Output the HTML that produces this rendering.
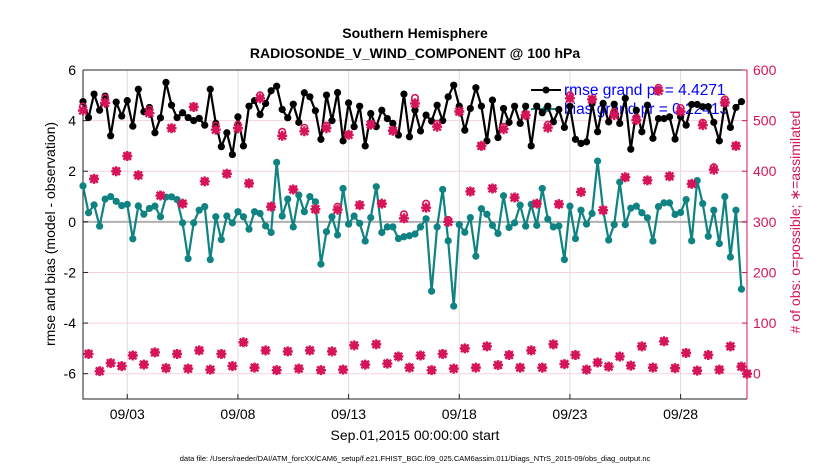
<!DOCTYPE html>
<html><head><meta charset="utf-8"><style>
body{margin:0;background:#fff;}
svg{display:block;font-family:"Liberation Sans",sans-serif;}
</style></head><body>
<svg id="chart" width="830" height="470" xmlns="http://www.w3.org/2000/svg">
<text x="415" y="38" text-anchor="middle" font-size="14" font-weight="bold">Southern Hemisphere</text>
<text x="415" y="58" text-anchor="middle" font-size="14" font-weight="bold">RADIOSONDE_V_WIND_COMPONENT @ 100 hPa</text>
<g id="grid"></g>
<g id="axes"></g>
<g id="legend"></g>
<g id="series"></g>
<text transform="translate(55,234) rotate(-90)" text-anchor="middle" font-size="14">rmse and bias (model - observation)</text>
<text transform="translate(800,222) rotate(-90)" text-anchor="middle" font-size="14" fill="#d6145a"># of obs: o=possible; ∗=assimilated</text>
<text x="415" y="440" text-anchor="middle" font-size="14">Sep.01,2015 00:00:00 start</text>
<text x="415" y="461" text-anchor="middle" font-size="7.5">data file: /Users/raeder/DAI/ATM_forcXX/CAM6_setup/f.e21.FHIST_BGC.f09_025.CAM6assim.011/Diags_NTrS_2015-09/obs_diag_output.nc</text>
</svg>
<script>
const rmse = [4.75,4.12,5.05,4.41,4.97,3.4,4.73,4.18,4.79,3.78,5.24,4.35,4.52,3.52,4.11,5.51,4.61,4.12,4.31,4.12,4.0,4.09,3.82,5.24,3.89,2.97,3.52,2.66,4.15,3.0,
4.57,4.79,4.24,4.68,5.18,5.36,4.44,4.11,4.65,3.93,5.1,4.94,4.39,3.26,5.01,4.0,5.11,3.2,4.7,3.76,4.57,3.0,4.28,3.76,4.41,4.08,3.89,3.43,5.05,3.36,
4.41,3.59,4.22,3.98,4.61,4.0,4.94,5.4,4.57,3.62,4.48,5.3,4.57,3.2,4.81,3.33,4.48,3.93,4.57,3.89,4.57,3.0,4.57,4.31,4.57,3.95,4.44,3.73,4.57,3.26,3.1,
3.16,4.68,3.56,4.68,3.95,4.65,3.89,4.88,2.87,4.41,3.56,4.61,3.3,4.08,4.08,4.15,3.27,4.15,3.82,4.64,4.64,4.55,4.55,3.93,3.2,4.68,3.73,4.52,4.75];
const bias = [1.42,0.36,0.67,-0.17,0.9,1.0,0.81,0.64,0.69,-0.67,0.63,0.3,0.53,0.62,0.2,0.98,0.99,0.88,-0.04,-1.45,-0.04,0.46,0.6,-1.49,0.2,-0.7,0.23,-0.04,0.4,0.2,
-0.29,0.4,0.33,-0.16,-0.42,2.35,0.23,0.9,-0.2,1.06,0.4,1.0,0.79,-1.67,-0.39,0.2,-0.52,1.32,-0.09,0.23,-0.06,-0.76,0.17,1.39,-0.42,-0.2,-0.2,-0.66,-0.59,-0.55,
-0.48,-0.2,0.12,-2.74,-0.2,1.28,-0.75,-3.33,-0.11,-0.41,0.17,-1.36,0.52,0.3,-0.14,-0.46,1.03,-0.22,-0.04,0.66,-0.17,0.69,-0.14,1.32,0.11,-0.2,-0.16,-1.49,0.62,-0.66,0.46,
-0.09,0.33,2.4,0.46,-0.72,-0.11,1.57,-0.11,0.54,0.62,0.36,0.16,-0.76,0.6,0.75,0.75,0.29,0.37,0.88,-0.75,1.63,0.72,-0.57,0.46,-0.86,1.0,-1.39,0.46,-2.66];
const nUsed = [520,39,385,5,535,21,400,15,430,36,392,18,515,42,352,11,485,39,336,10,527,46,380,8,482,39,395,15,485,62,
376,12,544,46,330,7,470,44,364,10,479,46,325,7,485,44,324,8,472,56,333,18,492,58,336,20,480,34,307,12,
534,36,328,7,488,39,300,10,518,50,360,12,450,54,366,17,483,37,348,12,511,46,336,12,486,58,335,19,544,37,359,
8,542,22,323,14,511,34,388,16,501,54,382,12,559,64,390,11,518,41,375,6,491,37,403,8,536,54,450,14,0];
const nPossible = [528,39,385,5,545,21,400,15,430,36,392,18,522,42,352,11,485,39,336,10,527,46,380,8,490,39,395,15,492,62,
376,12,550,46,330,7,478,44,364,10,486,46,325,7,490,44,330,8,472,56,333,18,492,58,336,20,480,34,315,12,
545,36,336,7,494,39,304,10,518,50,360,12,450,54,366,17,488,37,348,12,511,46,336,12,492,58,335,19,550,37,359,
8,542,22,323,14,517,34,388,16,506,54,382,12,565,64,390,11,525,41,375,6,496,37,408,8,542,54,450,14,0];
const xTickDays = [2,7,12,17,22,27];
const xTickLabels = ["09/03","09/08","09/13","09/18","09/23","09/28"];
const yTicks = [6,4,2,0,-2,-4,-6];
const rTicks = [0,100,200,300,400,500,600];
const legendLabels = ["rmse grand pr = 4.4271","bias grand pr = 0.22413"];

const NS="http://www.w3.org/2000/svg";
const X0=83,X1=747,Y0=70,Y1=399,DAYS=30;
const xs=d=>X0+(X1-X0)*d/DAYS;
const yl=v=>Y0+(6-v)*(Y1-Y0)/13;
const yr=n=>yl(-6)+(yl(6)-yl(-6))*n/600;
const xi=i=>xs(i*0.25);
function mk(tag,attrs,parent){const e=document.createElementNS(NS,tag);for(const k in attrs)e.setAttribute(k,attrs[k]);parent.appendChild(e);return e;}
const grid=document.getElementById('grid'),axes=document.getElementById('axes'),legend=document.getElementById('legend'),series=document.getElementById('series');
const PINK="#d6145a",TEAL="#0f8282";

yTicks.forEach(v=>{const l=mk('line',{x1:X0,x2:X1,y1:yl(v),y2:yl(v),stroke:'#f6d2de','stroke-width':1},grid);

});
xTickDays.forEach(d=>{const l=mk('line',{x1:xs(d),x2:xs(d),y1:Y0,y2:Y1,stroke:'#dddddd','stroke-width':1},grid);

});
const z=mk('line',{x1:X0,x2:X1,y1:yl(0),y2:yl(0),stroke:'#b0b0b0','stroke-width':2},grid);



const frame=mk('path',{d:`M${X0},${Y0}H${X1}M${X0},${Y0}V${Y1}H${X1}`,stroke:'#222',fill:'none','stroke-width':1},axes);


const ra=mk('line',{x1:X1,x2:X1,y1:Y0,y2:Y1,stroke:PINK,'stroke-width':1},axes);


yTicks.forEach(v=>{mk('line',{x1:X0,x2:X0+5,y1:yl(v),y2:yl(v),stroke:'#222'},axes);
const t=mk('text',{x:X0-7,y:yl(v)+5,'text-anchor':'end','font-size':14},axes);t.textContent=v;

});
rTicks.forEach(n=>{mk('line',{x1:X1-5,x2:X1,y1:yr(n),y2:yr(n),stroke:PINK},axes);
const t=mk('text',{x:X1+6,y:yr(n)+5,'font-size':14,fill:PINK},axes);t.textContent=n;

});
xTickDays.forEach((d,k)=>{mk('line',{x1:xs(d),x2:xs(d),y1:Y1,y2:Y1-5,stroke:'#222'},axes);
const t=mk('text',{x:xs(d),y:Y1+20,'text-anchor':'middle','font-size':14},axes);t.textContent=xTickLabels[k];

});

// legend
[['#000',0],[TEAL,1]].forEach(([c,k])=>{const y=90+k*19;
mk('line',{x1:531,x2:561,y1:y,y2:y,stroke:c,'stroke-width':2},legend);
mk('circle',{cx:546,cy:y,r:3.5,fill:c},legend);
const t=mk('text',{x:564,y:y+5,'font-size':15.5,fill:'#0000ff'},legend);t.textContent=legendLabels[k];

});

function line(vals,color,name){
 const p=mk('polyline',{points:vals.map((v,i)=>xi(i)+','+yl(v)).join(' '),fill:'none',stroke:color,'stroke-width':2.2,'stroke-linejoin':'round'},series);
 
 
 vals.forEach((v,i)=>{const c=mk('circle',{cx:xi(i),cy:yl(v),r:3.6,fill:color},series);
 
 });
}
line(rmse,'#000','rmse');
line(bias,TEAL,'bias');

nPossible.forEach((n,i)=>{const c=mk('circle',{cx:xi(i),cy:yr(n),r:3.2,fill:'none',stroke:PINK,'stroke-width':1.6},series);

});
nUsed.forEach((n,i)=>{const x=xi(i),y=yr(n),s=5,d=3.8;
const g=mk('path',{d:`M${x-s},${y}H${x+s}M${x},${y-s}V${y+s}M${x-d},${y-d}L${x+d},${y+d}M${x-d},${y+d}L${x+d},${y-d}`,stroke:PINK,'stroke-width':2.4,fill:'none'},series);

});
</script>
</body></html>
